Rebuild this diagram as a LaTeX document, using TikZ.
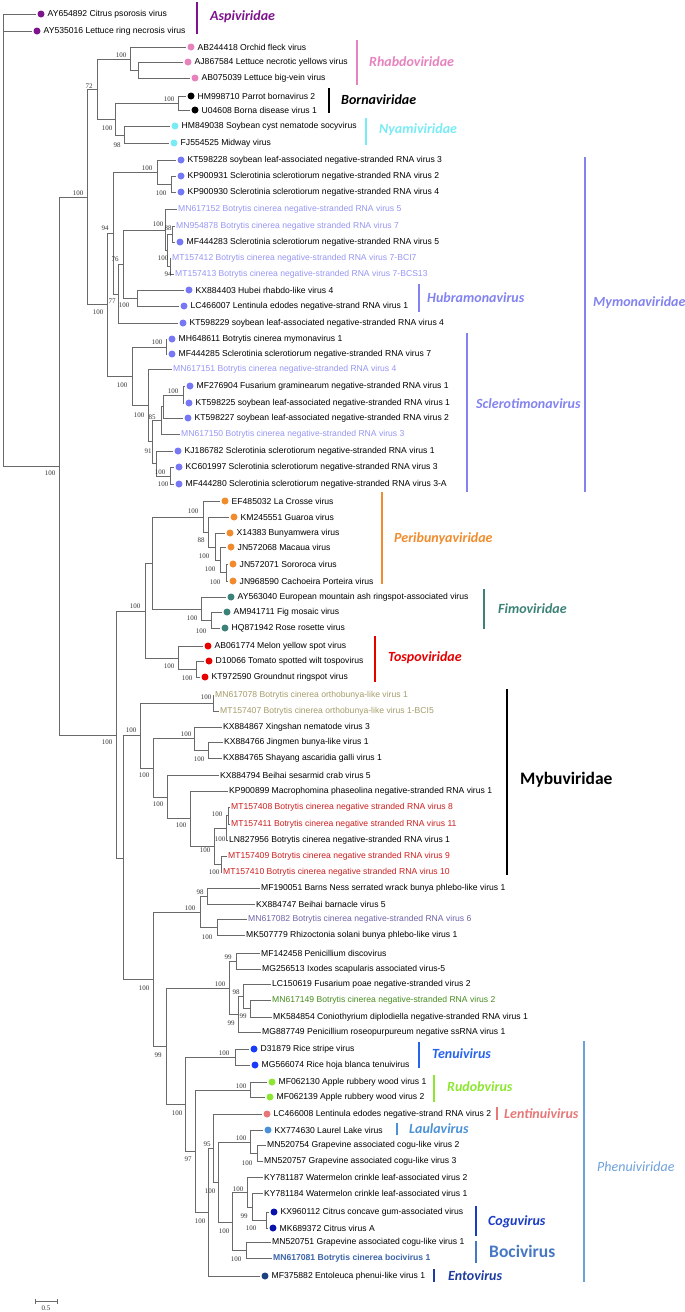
\documentclass[tikz,border=0pt]{standalone}
\usepackage{fontspec}
\setmainfont{Liberation Sans}
\newfontfamily\bootfont{Liberation Serif}
\newfontfamily\calfont{Carlito}
\usepackage{tikz}
\usetikzlibrary{positioning}

\definecolor{branch}{RGB}{105,105,105}
\definecolor{aspi}{RGB}{125,20,140}
\definecolor{rhab}{RGB}{230,130,190}
\definecolor{nyam}{RGB}{120,235,245}
\definecolor{mymo}{RGB}{120,120,245}
\definecolor{mylt}{RGB}{150,150,245}
\definecolor{mylab}{RGB}{130,130,240}
\definecolor{peri}{RGB}{240,140,45}
\definecolor{fimo}{RGB}{60,130,120}
\definecolor{tosp}{RGB}{230,0,0}
\definecolor{obun}{RGB}{165,155,105}
\definecolor{bcred}{RGB}{205,30,30}
\definecolor{bcsix}{RGB}{110,100,170}
\definecolor{bctwo}{RGB}{70,140,30}
\definecolor{tenu}{RGB}{25,60,250}
\definecolor{tenul}{RGB}{40,100,235}
\definecolor{rudo}{RGB}{140,230,50}
\definecolor{lent}{RGB}{230,120,120}
\definecolor{laul}{RGB}{75,145,215}
\definecolor{cogu}{RGB}{10,20,170}
\definecolor{cogul}{RGB}{25,60,195}
\definecolor{boci}{RGB}{60,100,170}
\definecolor{bocil}{RGB}{70,120,195}
\definecolor{ento}{RGB}{30,65,130}
\definecolor{entol}{RGB}{30,60,160}
\definecolor{phen}{RGB}{110,160,220}

\newcommand{\taxfont}{\fontsize{8.6}{10}\selectfont}

\tikzset{
  br/.style={draw=branch, line width=0.7pt},
  dot/.style={circle, fill=#1, draw=none, minimum size=7pt, inner sep=0pt, outer sep=1.5pt},
  leaf/.style={font=\taxfont, inner sep=1pt, anchor=west},
  bs/.style={font=\bootfont\fontsize{7}{8}\selectfont, inner sep=0pt, text=black!80},
  bar/.style={draw=#1, line width=2.5pt},
  fam/.style={font=\calfont\bfseries\itshape\fontsize{14}{16}\selectfont, text=#1, anchor=west, inner sep=0pt},
  bigfam/.style={font=\calfont\bfseries\fontsize{17.5}{19}\selectfont, text=#1, anchor=west, inner sep=0pt},
}

\begin{document}
\begin{tikzpicture}[x=1pt,y=-1pt]
\useasboundingbox (0,0) rectangle (685,1312);

% taxa with a dot
\foreach \n/\x/\y/\col/\txt in {
 1/41/14/aspi/AY654892 Citrus psorosis virus,
 2/37/31/aspi/AY535016 Lettuce ring necrosis virus,
 3/191/47/rhab/AB244418 Orchid fleck virus,
 4/188/62/rhab/AJ867584 Lettuce necrotic yellows virus,
 5/195/78/rhab/AB075039 Lettuce big-vein virus,
 6/191/96/black/HM998710 Parrot bornavirus 2,
 7/195/110/black/U04608 Borna disease virus 1,
 8/175/126/nyam/HM849038 Soybean cyst nematode socyvirus,
 9/174/143/nyam/FJ554525 Midway virus,
 10/181/160/mymo/KT598228 soybean leaf-associated negative-stranded RNA virus 3,
 11/181/176/mymo/KP900931 Sclerotinia sclerotiorum negative-stranded RNA virus 2,
 12/181/192/mymo/KP900930 Sclerotinia sclerotiorum negative-stranded RNA virus 4,
 15/180/242/mymo/MF444283 Sclerotinia sclerotiorum negative-stranded RNA virus 5,
 18/189/290/mymo/KX884403 Hubei rhabdo-like virus 4,
 19/184/306/mymo/LC466007 Lentinula edodes negative-strand RNA virus 1,
 20/183/323/mymo/KT598229 soybean leaf-associated negative-stranded RNA virus 4,
 21/172/339/mymo/MH648611 Botrytis cinerea mymonavirus 1,
 22/172/354/mymo/MF444285 Sclerotinia sclerotiorum negative-stranded RNA virus 7,
 24/190/386/mymo/MF276904 Fusarium graminearum negative-stranded RNA virus 1,
 25/189/403/mymo/KT598225 soybean leaf-associated negative-stranded RNA virus 1,
 26/188/418/mymo/KT598227 soybean leaf-associated negative-stranded RNA virus 2,
 28/178/451/mymo/KJ186782 Sclerotinia sclerotiorum negative-stranded RNA virus 1,
 29/179/467/mymo/KC601997 Sclerotinia sclerotiorum negative-stranded RNA virus 3,
 30/179/484/mymo/MF444280 Sclerotinia sclerotiorum negative-stranded RNA virus 3-A,
 31/225/501/peri/EF485032 La Crosse virus,
 32/234/517/peri/KM245551 Guaroa virus,
 33/230/533/peri/X14383 Bunyamwera virus,
 34/231/547/peri/JN572068 Macaua virus,
 35/233/564/peri/JN572071 Sororoca virus,
 36/233/581/peri/JN968590 Cachoeira Porteira virus,
 37/231/597/fimo/AY563040 European mountain ash ringspot-associated virus,
 38/227/612/fimo/AM941711 Fig mosaic virus,
 39/225/628/fimo/HQ871942 Rose rosette virus,
 40/208/646/tosp/AB061774 Melon yellow spot virus,
 41/209/661/tosp/D10066 Tomato spotted wilt tospovirus,
 42/205/677/tosp/KT972590 Groundnut ringspot virus,
 65/254/1049/tenu/D31879 Rice stripe virus,
 66/255/1065/tenu/MG566074 Rice hoja blanca tenuivirus,
 67/272/1082/rudo/MF062130 Apple rubbery wood virus 1,
 68/270/1097/rudo/MF062139 Apple rubbery wood virus 2,
 69/267/1114/lent/LC466008 Lentinula edodes negative-strand RNA virus 2,
 70/268/1130/laul/KX774630 Laurel Lake virus,
 75/274/1212/cogu/KX960112 Citrus concave gum-associated virus,
 76/273/1228/cogu/MK689372 Citrus virus A,
 79/265/1276/ento/MF375882 Entoleuca phenui-like virus 1}
{
  \node[dot=\col] (d\n) at (\x,\y) {};
  \node[leaf, right=0.5pt of d\n] (t\n) {\txt};
}

% taxa without a dot
\foreach \n/\x/\y/\col/\txt in {
 13/178/209/mylt/MN617152 Botrytis cinerea negative-stranded RNA virus 5,
 14/176/226/mylt/MN954878 Botrytis cinerea negative stranded RNA virus 7,
 16/172/258/mylt/MT157412 Botrytis cinerea negative-stranded RNA virus 7-BCI7,
 17/175/274/mylt/MT157413 Botrytis cinerea negative-stranded RNA virus 7-BCS13,
 23/173/369/mylt/MN617151 Botrytis cinerea negative-stranded RNA virus 4,
 27/181/434/mylt/MN617150 Botrytis cinerea negative-stranded RNA virus 3,
 43/215/695/obun/MN617078 Botrytis cinerea orthobunya-like virus 1,
 44/220/711/obun/MT157407 Botrytis cinerea orthobunya-like virus 1-BCI5,
 45/223/727/black/KX884867 Xingshan nematode virus 3,
 46/224/742/black/KX884766 Jingmen bunya-like virus 1,
 47/223/758/black/KX884765 Shayang ascaridia galli virus 1,
 48/220/775/black/KX884794 Beihai sesarmid crab virus 5,
 49/229/791/black/KP900899 Macrophomina phaseolina negative-stranded RNA virus 1,
 50/231/807/bcred/MT157408 Botrytis cinerea negative stranded RNA virus 8,
 51/231/824/bcred/MT157411 Botrytis cinerea negative stranded RNA virus 11,
 52/229/840/black/LN827956 Botrytis cinerea negative-stranded RNA virus 1,
 53/228/856/bcred/MT157409 Botrytis cinerea negative stranded RNA virus 9,
 54/223/872/bcred/MT157410 Botrytis cinerea negative stranded RNA virus 10,
 55/261/888/black/MF190051 Barns Ness serrated wrack bunya phlebo-like virus 1,
 56/256/904/black/KX884747 Beihai barnacle virus 5,
 57/248/919/bcsix/MN617082 Botrytis cinerea negative-stranded RNA virus 6,
 58/246/935/black/MK507779 Rhizoctonia solani bunya phlebo-like virus 1,
 59/261/953/black/MF142458 Penicillium discovirus,
 60/262/969/black/MG256513 Ixodes scapularis associated virus-5,
 61/272/984/black/LC150619 Fusarium poae negative-stranded virus 2,
 62/272/1000/bctwo/MN617149 Botrytis cinerea negative-stranded RNA virus 2,
 63/273/1017/black/MK584854 Coniothyrium diplodiella negative-stranded RNA virus 1,
 64/262/1032/black/MG887749 Penicillium roseopurpureum negative ssRNA virus 1,
 71/267/1145/black/MN520754 Grapevine associated cogu-like virus 2,
 72/264/1161/black/MN520757 Grapevine associated cogu-like virus 3,
 73/264/1177/black/KY781187 Watermelon crinkle leaf-associated virus 2,
 74/264/1193/black/KY781184 Watermelon crinkle leaf-associated virus 1,
 77/272/1242/black/MN520751 Grapevine associated cogu-like virus 1,
 78/273/1258/boci/\textbf{MN617081 Botrytis cinerea bocivirus 1}}
{
  \node[leaf, text=\col] (d\n) at (\x-1,\y) {\txt};
}

% inner nodes of the tree
\foreach \nm/\x/\y in {
 r0/3/240, nA/59/466, nB/87/197, n72/97/89, nRh/130/59, nRh2/138/70,
 n115/115/119, nBo/178/103, nNy/124/135, nMy/107/304, n94/113/233,
 nK3/157/172, nK2/171/184, n77/118/294, n76/123/264, nG/165/230,
 nH/167/250, nI/172/234, nJ/170/266, nHu/137/298, nS/132/376,
 nS1/166/347, nT/148/405, nU/152/441, nV2/161/420, nV/163/406,
 nW/183/395, nK/156/463, nL/170/476,
 nC/116/735, nP/145/611, nPF/152/563, nPe/203/517, nPe2/208/532,
 nPe3/215/547, nPe4/220/560, nPe5/226/572, nFi/201/609, nFi2/211/620,
 nTo/178/658, nTo2/196/669,
 nD/123/858, nE/140/735, nOb/213/703, nF/153/768, nX/194/738,
 nX2/208/750, n167/167/797, n190/190/818, n214/214/846, n226/226/828,
 n228/228/815, n223/221/864,
 nG2/153/979, nPh/200/912, n98/207/896, n100b/217/927, n166/166/1046,
 n5/229/988, n1/236/961, n4/238/1014, n3/243/996, n2/250/1008,
 nPhe/185/1104, nTe/235/1057, n97/195/1151, nRu/250/1090, n208/208/1212,
 n213/213/1148, n218/218/1182, nLa/250/1142, nLa2/257/1153, n232/232/1222,
 nWC/247/1192, nWC2/252/1207, nCi/266/1220, nBc/246/1250}
  \coordinate (\nm) at (\x,\y);

% branches
\foreach \p/\c in {
 r0/d1, r0/d2, r0/nA, nA/nB, nA/nC, nB/n72, nB/nMy, n72/nRh, n72/n115,
 nRh/d3, nRh/nRh2, nRh2/d4, nRh2/d5, n115/nBo, n115/nNy, nBo/d6, nBo/d7,
 nNy/d8, nNy/d9, nMy/n94, nMy/nS, n94/nK3, n94/n77, nK3/d10, nK3/nK2,
 nK2/d11, nK2/d12, n77/n76, n77/d20, n76/nG, n76/nHu, nG/d13, nG/nH,
 nH/nI, nH/nJ, nI/d14, nI/d15, nJ/d16, nJ/d17, nHu/d18, nHu/d19,
 nS/nS1, nS/nT, nS1/d21, nS1/d22, nT/d23, nT/nU, nU/nV2, nU/nK,
 nV2/nV, nV2/d27, nV/nW, nV/d26, nW/d24, nW/d25, nK/d28, nK/nL,
 nL/d29, nL/d30,
 nC/nP, nC/nD, nP/nPF, nP/nTo, nPF/nPe, nPF/nFi, nPe/d31, nPe/nPe2,
 nPe2/d32, nPe2/nPe3, nPe3/d33, nPe3/nPe4, nPe4/d34, nPe4/nPe5,
 nPe5/d35, nPe5/d36, nFi/d37, nFi/nFi2, nFi2/d38, nFi2/d39,
 nTo/d40, nTo/nTo2, nTo2/d41, nTo2/d42,
 nD/nE, nD/nG2, nE/nOb, nE/nF, nOb/d43, nOb/d44, nF/nX, nF/n167,
 nX/d45, nX/nX2, nX2/d46, nX2/d47, n167/d48, n167/n190, n190/d49,
 n190/n214, n214/n226, n214/n223, n226/n228, n226/d52, n228/d50,
 n228/d51, n223/d53, n223/d54,
 nG2/nPh, nG2/n166, nPh/n98, nPh/n100b, n98/d55, n98/d56, n100b/d57,
 n100b/d58, n166/n5, n166/nPhe, n5/n1, n5/n4, n1/d59, n1/d60, n4/n3,
 n4/d64, n3/d61, n3/n2, n2/d62, n2/d63,
 nPhe/nTe, nPhe/n97, nTe/d65, nTe/d66, n97/nRu, n97/n208, nRu/d67,
 nRu/d68, n208/n213, n208/d79, n213/d69, n213/n218, n218/nLa,
 n218/n232, nLa/d70, nLa/nLa2, nLa2/d71, nLa2/d72, n232/nWC, n232/nBc,
 nWC/d73, nWC/nWC2, nWC2/d74, nWC2/nCi, nCi/d75, nCi/d76, nBc/d77,
 nBc/d78}
  \draw[br] (\p) |- (\c);

% bootstrap values
\foreach \x/\y/\v [count=\i] in {
 121/55/100, 89/86/72, 169/99/100, 107/128/100, 117/145/98, 147/168/100,
 78/193/100, 161/193/100, 158/224/100, 168/228/88, 105/228/94,
 163/258/100, 115/259/76, 168/274/94, 112/301/77, 124/305/100,
 98/312/100, 157/342/100, 122/385/100, 173/391/100, 139/415/100,
 152/417/85, 148/451/91, 160/472/100, 163/484/100, 50/473/100,
 193/511/100, 201/540/88, 204/556/100, 210/569/100, 215/582/100,
 135/606/100, 192/618/100, 201/631/100, 169/666/100, 187/678/100,
 206/697/100, 131/730/100, 186/734/100, 107/742/100, 199/759/100,
 144/775/100, 158/804/100, 181/825/100, 217/814/100, 220/839/100,
 205/850/100, 214/872/100, 200/892/98, 190/908/100, 207/937/100,
 228/957/99, 220/984/100, 144/988/100, 236/992/98, 243/1016/99,
 231/1023/99, 158/1055/99, 224/1053/100, 241/1086/100, 177/1113/100,
 241/1138/100, 207/1144/95, 188/1159/97, 247/1163/100, 210/1191/100,
 238/1189/100, 244/1216/99, 200/1221/100, 251/1228/100, 224/1231/100,
 236/1259/100}
  \node[bs] (b\i) at (\x,\y) {\v};

% clade bars and names
\draw[bar=aspi] (197,2) -- (197,34);
\node[fam=aspi] (fAspi) at (210,17) {Aspiviridae};
\draw[bar=rhab] (357,40) -- (357,85);
\node[fam=rhab] (fRhab) at (369,62) {Rhabdoviridae};
\draw[bar=black] (329,88) -- (329,113);
\node[fam=black] (fBorna) at (341,100) {Bornaviridae};
\draw[bar=nyam] (366,118) -- (366,145);
\node[fam=nyam] (fNyami) at (379,130) {Nyamiviridae};
\draw[bar=mylab] (585,157) -- (585,492);
\node[fam=mylab] (fMymona) at (593,303) {Mymonaviridae};
\draw[bar=mylab] (419,284) -- (419,312);
\node[fam=mylab] (fHubra) at (427,298) {Hubramonavirus};
\draw[bar=mylab] (467,333) -- (467,492);
\node[fam=mylab] (fSclero) at (476,404) {Sclerotimonavirus};
\draw[bar=peri] (382,492) -- (382,584);
\node[fam=peri] (fPeri) at (394,539) {Peribunyaviridae};
\draw[bar=fimo] (484,589) -- (484,629);
\node[fam=fimo] (fFimo) at (498,609) {Fimoviridae};
\draw[bar=tosp] (375,636) -- (375,682);
\node[fam=tosp] (fTospo) at (388,658) {Tospoviridae};
\draw[bar=black] (507,689) -- (507,875);
\node[bigfam=black] (fMybu) at (520,780) {Mybuviridae};
\draw[bar=tenul] (419,1042) -- (419,1068);
\node[fam=tenul] (fTenui) at (432,1054) {Tenuivirus};
\draw[bar=rudo] (434,1075) -- (434,1102);
\node[fam=rudo] (fRudob) at (447,1087) {Rudobvirus};
\draw[bar=lent] (497,1107) -- (497,1120);
\node[fam=lent] (fLentin) at (504,1114) {Lentinuivirus};
\draw[bar=laul] (397,1123) -- (397,1135);
\node[fam=laul] (fLaula) at (409,1129) {Laulavirus};
\draw[bar=cogul] (476,1206) -- (476,1236);
\node[fam=cogul] (fCogu) at (488,1222) {Coguvirus};
\draw[bar=bocil] (476,1241) -- (476,1263);
\node[bigfam=bocil] (fBoci) at (489,1251) {Bocivirus};
\draw[bar=entol] (434,1269) -- (434,1282);
\node[fam=entol] (fEnto) at (448,1276) {Entovirus};
\draw[bar=phen] (584,1041) -- (584,1282);
\node[fam=phen, font=\calfont\itshape\fontsize{14}{16}\selectfont] (fPhenui) at (597,1167) {Phenuiviridae};

% scale bar
\coordinate (sbL) at (35,1301);
\coordinate (sbR) at (57,1301);
\draw[br] (sbL) -- (sbR);
\draw[br] ([yshift=2.5pt]sbL) -- ([yshift=-2.5pt]sbL);
\draw[br] ([yshift=2.5pt]sbR) -- ([yshift=-2.5pt]sbR);
\node[bs] (sbLab) at (46,1308) {0.5};
\end{tikzpicture}
\end{document}
